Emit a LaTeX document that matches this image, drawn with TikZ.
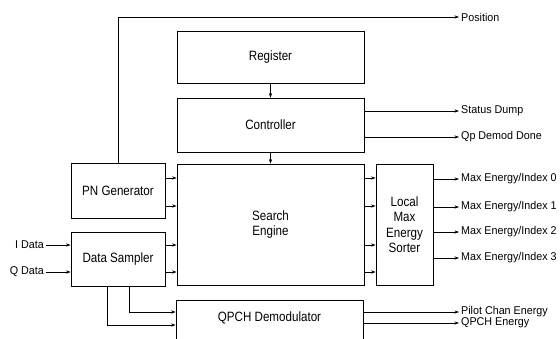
\documentclass[tikz,border=0pt]{standalone}
\usepackage{fontspec}
\setmainfont{Liberation Sans}
\newfontfamily\tallfont[FakeStretch=0.86]{Liberation Sans}
\newfontfamily\lblfont[FakeStretch=0.95]{Liberation Sans}
\usetikzlibrary{arrows.meta}
\begin{document}
\begin{tikzpicture}[x=1pt,y=-1pt,
  box/.style={draw, line width=0.8pt, inner sep=0pt, align=center,
    font=\tallfont\fontsize{13.5}{15.5}\selectfont},
  lbl/.style={inner sep=2pt, font=\lblfont\fontsize{11.3}{12}\selectfont},
  arr/.style={line width=0.6pt, -{Stealth[length=4.5pt,width=3.2pt]}}]
\useasboundingbox (0,0) rectangle (560,338);
% blocks
\node[box, minimum width=187pt, minimum height=52pt] (reg) at (270.5,57) {Register};
\node[box, minimum width=187pt, minimum height=54pt] (ctrl) at (270.5,125) {Controller};
\node[box, minimum width=187pt, minimum height=121pt] (se) at (270.5,224.5) {Search\\Engine};
\node[box, minimum width=57pt, minimum height=121pt] (sort) at (404.5,224.5) {Local\\Max\\Energy\\Sorter};
\node[box, minimum width=94pt, minimum height=55pt] (pn) at (118,190.5) {PN Generator};
\node[box, minimum width=94pt, minimum height=54pt] (ds) at (118,259) {Data Sampler};
\node[box, minimum width=187pt, minimum height=50pt] (qpch) at (269.5,325) {};
\node[font=\tallfont\fontsize{13.5}{15.5}\selectfont] (qpchtxt) at (269.5,318) {QPCH Demodulator};
% output labels
\node[lbl, anchor=west] (pos) at (459,17) {Position};
\node[lbl, anchor=west] (sd) at (459,111) {Status Dump};
\node[lbl, anchor=west] (qp) at (459,137) {Qp Demod Done};
\node[lbl, anchor=west] (m0) at (459,179) {Max Energy/Index 0};
\node[lbl, anchor=west] (m1) at (459,207) {Max Energy/Index 1};
\node[lbl, anchor=west] (m2) at (459,232) {Max Energy/Index 2};
\node[lbl, anchor=west] (m3) at (459,258) {Max Energy/Index 3};
\node[lbl, anchor=west] (pce) at (459,312) {Pilot Chan Energy};
\node[lbl, anchor=west] (qe) at (459,323) {QPCH Energy};
\node[lbl, anchor=east] (id) at (46,245) {I Data};
\node[lbl, anchor=east] (qd) at (46,272) {Q Data};
% helper rows
\coordinate (r1) at (0,178);
\coordinate (r2) at (0,206);
\coordinate (r3) at (0,245);
\coordinate (r4) at (0,272);
\coordinate (qa) at (129,312);
\coordinate (qb) at (107,325);
% connectors
\draw[arr] (pn.north) |- (pos.west);
\draw[arr] (reg.south) -- (ctrl.north);
\draw[arr] (ctrl.south) -- (se.north);
\draw[arr] (ctrl.east |- sd.west) -- (sd.west);
\draw[arr] (ctrl.east |- qp.west) -- (qp.west);
\draw[arr] (pn.east |- r1) -- (se.west |- r1);
\draw[arr] (pn.east |- r2) -- (se.west |- r2);
\draw[arr] (ds.east |- r3) -- (se.west |- r3);
\draw[arr] (ds.east |- r4) -- (se.west |- r4);
\draw[arr] (se.east |- r1) -- (sort.west |- r1);
\draw[arr] (se.east |- r2) -- (sort.west |- r2);
\draw[arr] (se.east |- r3) -- (sort.west |- r3);
\draw[arr] (se.east |- r4) -- (sort.west |- r4);
\draw[arr] (sort.east |- m0.west) -- (m0.west);
\draw[arr] (sort.east |- m1.west) -- (m1.west);
\draw[arr] (sort.east |- m2.west) -- (m2.west);
\draw[arr] (sort.east |- m3.west) -- (m3.west);
\draw[arr] (id.east) -- (ds.west |- id.east);
\draw[arr] (qd.east) -- (ds.west |- qd.east);
\draw[arr] (ds.south -| qa) |- (qpch.west |- qa);
\draw[arr] (ds.south -| qb) |- (qpch.west |- qb);
\draw[arr] (qpch.east |- pce.west) -- (pce.west);
\draw[arr] (qpch.east |- qe.west) -- (qe.west);
\end{tikzpicture}
\end{document}
